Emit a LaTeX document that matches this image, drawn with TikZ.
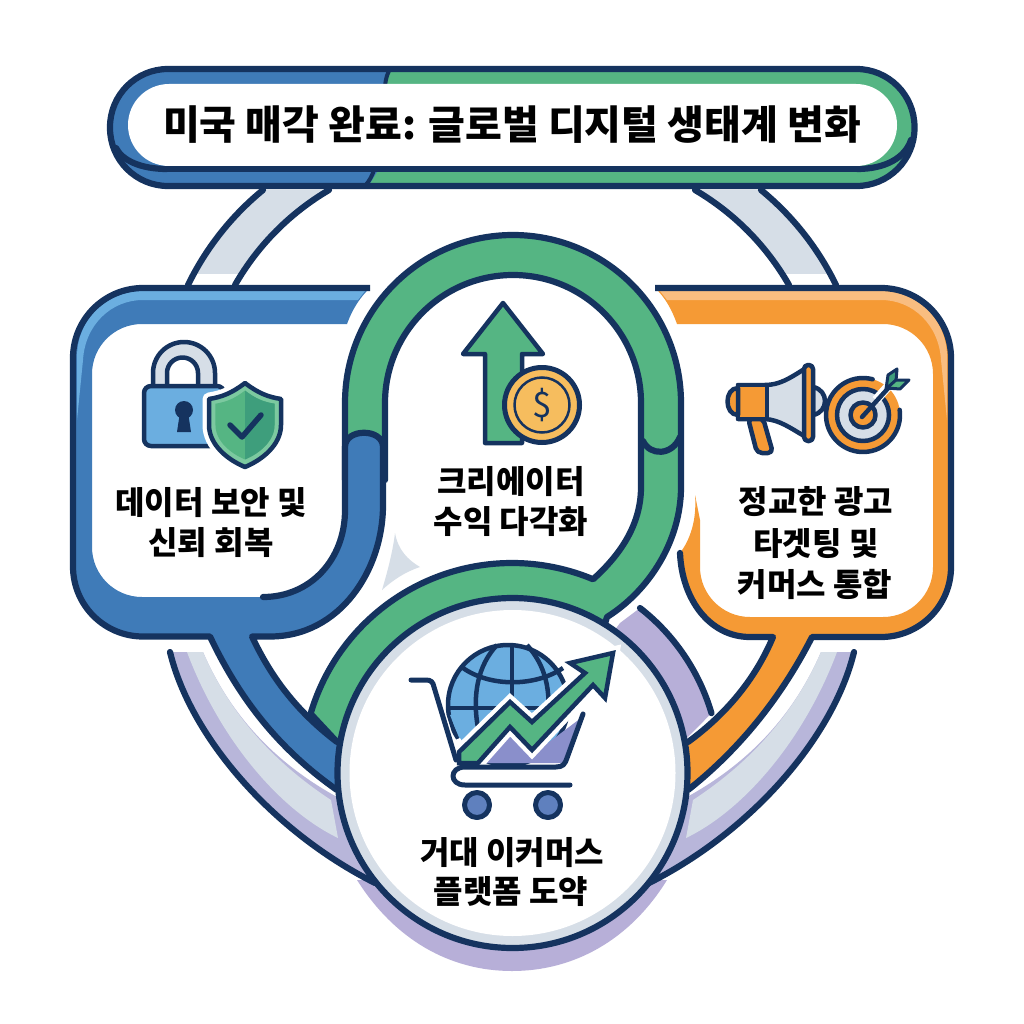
\documentclass[tikz,border=0pt]{standalone}
\usepackage{fontspec}
\setmainfont{Noto Sans CJK KR}
\usetikzlibrary{calc}
\definecolor{navy}{HTML}{15335F}
\definecolor{bluem}{HTML}{3F7BB8}
\definecolor{bluel}{HTML}{6BAEE0}
\definecolor{greenm}{HTML}{55B583}
\definecolor{greend}{HTML}{3E9E7C}
\definecolor{greenl}{HTML}{7CC9A0}
\definecolor{orangem}{HTML}{F59A35}
\definecolor{orangel}{HTML}{F9BD80}
\definecolor{pale}{HTML}{D6DEE7}
\definecolor{lav}{HTML}{B7AFD8}
\definecolor{peri}{HTML}{B9BCDC}
\definecolor{gold}{HTML}{F6BD5E}
\definecolor{basket}{HTML}{8A8FCB}
\definecolor{wheel}{HTML}{5F80BE}
\tikzset{
  line/.style={draw=navy,line width=6.2pt,line cap=round,line join=round},
  icon/.style={draw=navy,line width=4.5pt,line cap=round,line join=round},
  lab/.style={font=\fontsize{#1}{#1}\selectfont\bfseries,text=black,inner sep=0pt,align=center},
  lab/.default=31
}
\newcommand{\topring}{%
  \begin{scope}
    \clip (100,180) rectangle (400,273);
    \fill[pale] (263,190) .. controls (230,217) and (205,250) .. (188,285) -- (235,285) .. controls (258,245) and (290,213) .. (327,190) -- cycle;
  \end{scope}
  \draw[line] (263,190) .. controls (230,217) and (205,250) .. (188,285);
  \draw[line] (329,190) .. controls (290,213) and (258,245) .. (235,285);
}
\newcommand{\lowring}{%
  \fill[lav!45!peri] (170,652) -- (203,652) .. controls (228,710) and (270,760) .. (337,797) -- (365,860) -- (375,883) .. controls (270,830) and (190,735) .. (170,652) -- cycle;
  \fill[pale] (187,652) -- (203,652) .. controls (228,710) and (270,760) .. (331,800) -- (338,838) .. controls (280,810) and (220,740) .. (187,652) -- cycle;
  \draw[line] (170,652) .. controls (190,735) and (270,830) .. (375,883);
}
\def\shieldpath{(245,383) .. controls (232,393) and (222,397) .. (209,399) -- (209,425) .. controls (209,445) and (228,460) .. (245,467) .. controls (262,460) and (281,445) .. (281,425) -- (281,399) .. controls (268,397) and (258,393) .. (245,383) -- cycle}
\def\trendpath{(459,763) -- (459,752) -- (510,702) -- (532,722) -- (585,673) -- (570,663) -- (613,653) -- (605,698) -- (593,685) -- (532,750) -- (510,727) -- (478,763) -- cycle}
\begin{document}
\begin{tikzpicture}[x=1pt,y=-1pt]
\useasboundingbox (0,0) rectangle (1024,1024);
\fill[white] (0,0) rectangle (1024,1024);

% back ring
\topring
\begin{scope}[shift={(1024,0)},x=-1pt]\topring\end{scope}
\fill[lav] (357,880) .. controls (395,940) and (450,971) .. (512,971) .. controls (574,971) and (630,940) .. (667,880) -- cycle;
\lowring
\begin{scope}[shift={(1024,0)},x=-1pt]\lowring\end{scope}

% lavender arc at right
\fill[lav] (640,608) arc[start angle=308,end angle=343.6,radius=208] -- (680,745) -- (600,650) -- (620,623) -- cycle;
\draw[line] (640,608) arc[start angle=308,end angle=343.6,radius=208];

% orange frame
\fill[orangem] (655,288) -- (881,288) arc[start angle=270,end angle=360,radius=70] -- (951,567) arc[start angle=0,end angle=90,radius=70] -- (812,637) .. controls (785,690) and (745,745) .. (688,790) -- (688,742) .. controls (725,715) and (755,680) .. (773,637) -- (750,637) .. controls (710,637) and (682,600) .. (680,553) .. controls (690,540) and (697,520) .. (695,495) -- (700,520) -- (700,567) arc[start angle=180,end angle=90,radius=50] -- (883,617) arc[start angle=90,end angle=0,radius=50] -- (933,374) arc[start angle=360,end angle=270,radius=50] -- (677,324) .. controls (672,310) and (665,297) .. (655,288) -- cycle;
\fill[orangel] (660,291) -- (881,291) .. controls (918,291) and (947,320) .. (947,357) -- (947,420) -- (941,360) .. controls (939,325) and (913,300) .. (881,300) -- (667,300) -- cycle;
\draw[line,line cap=butt] (655,288) -- (881,288) arc[start angle=270,end angle=360,radius=70] -- (951,567) arc[start angle=0,end angle=90,radius=70] -- (812,637) .. controls (785,690) and (745,745) .. (688,790);
\draw[line] (688,742) .. controls (725,715) and (755,680) .. (773,637) -- (750,637) .. controls (710,637) and (682,600) .. (680,553);

% green arch and ring
\path[fill=greenm,line] (310.6,713.7) arc[start angle=196.4,end angle=292.7,radius=210] .. controls (620,555) and (641,525) .. (641,487) -- (641,403) arc[start angle=360,end angle=180,radius=128] -- (385,480) -- (345,480) -- (345,403) arc[start angle=180,end angle=360,radius=168] -- (681,487) .. controls (681,540) and (650,590) .. (607,617) -- (600,640) -- (337,742) -- cycle;
\draw[line] (643,441) .. controls (650,456) and (672,456) .. (680,437);

% blue frame
\fill[bluem] (370,288) -- (143,288) arc[start angle=270,end angle=180,radius=70] -- (73,566.5) arc[start angle=180,end angle=90,radius=70] -- (210,636.5) .. controls (240,700) and (280,750) .. (337,790) -- (337,742) .. controls (295,710) and (270,675) .. (252,636.5) -- (270,636.5) .. controls (340,636.5) and (383,570) .. (383,505) -- (383,447) .. controls (383,428) and (345,428) .. (345,447) -- (345,510) .. controls (345,560) and (310,597) .. (263,597) -- (142,597) arc[start angle=90,end angle=180,radius=50] -- (92,374) arc[start angle=180,end angle=270,radius=50] -- (347,324) .. controls (352,310) and (360,297) .. (370,288) -- cycle;
\fill[bluel] (365,291) -- (143,291) .. controls (106,291) and (77,320) .. (77,357) -- (77,420) -- (83,360) .. controls (85,325) and (111,300) .. (143,300) -- (358,300) -- cycle;
\draw[line,line cap=butt] (370,288) -- (143,288) arc[start angle=270,end angle=180,radius=70] -- (73,566.5) arc[start angle=180,end angle=90,radius=70] -- (210,636.5) .. controls (240,700) and (280,750) .. (337,790);
\draw[line] (337,742) .. controls (295,710) and (270,675) .. (252,636.5) -- (270,636.5) .. controls (340,636.5) and (383,570) .. (383,505) -- (383,447) .. controls (383,428) and (345,428) .. (345,447) -- (345,510) .. controls (345,560) and (310,597) .. (263,597);

% pale wedge
\fill[pale] (395,533) .. controls (398,550) and (408,560) .. (420,567) .. controls (405,572) and (393,580) .. (382,590) .. controls (388,570) and (393,550) .. (395,533) -- cycle;

% central circle
\fill[pale] (512.5,773) circle[radius=175];
\fill[white] (512.5,773) circle[radius=163];
\draw[line] (512.5,773) circle[radius=175];

% title bar
\begin{scope}
  \clip[rounded corners=58pt] (110,69) rectangle (914.5,186);
  \fill[greenm] (100,60) rectangle (930,195);
  \fill[bluem] (100,60) -- (392,60) .. controls (384,75) and (384,80) .. (384,90) -- (384,160) .. controls (378,172) and (372,178) .. (364,195) -- (100,195) -- cycle;
  \draw[navy,line width=4pt] (392,66) .. controls (387,73) and (386,78) .. (385,86);
  \draw[navy,line width=4pt] (374,170) .. controls (372,176) and (370,180) .. (365,186);
  \draw[line] (167,169) .. controls (140,169) and (122,160) .. (116,148);
  \draw[line] (857,169) .. controls (885,169) and (905,158) .. (911,140);
\end{scope}
\fill[white,rounded corners=41pt] (128,84) rectangle (897,166);
\draw[line] (167,169) -- (857,169);
\draw[line,rounded corners=58pt] (110,69) rectangle (914.5,186);
\node[lab=40] (title) at (512,125) {미국 매각 완료: 글로벌 디지털 생태계 변화};

% lock icon
\path[fill=pale,icon] (153,390) -- (153,373) arc[start angle=180,end angle=360,radius=31] -- (215,390) -- (198,390) -- (198,373) arc[start angle=360,end angle=180,radius=15.5] -- (167,390) -- cycle;
\path[fill=bluel,icon,rounded corners=7pt] (144,386) rectangle (224,446);
\fill[navy] (184,410) circle[radius=9];
\fill[navy] (180,412) -- (188,412) -- (191,432) -- (177,432) -- cycle;
% shield
\draw[white,line width=13pt,line join=round,fill=white] \shieldpath;
\path[fill=greenl,icon] \shieldpath;
\begin{scope}[scale around={0.82:(245,425)}]
  \fill[greenm] \shieldpath;
  \begin{scope}\clip (245,370) rectangle (300,480); \fill[greend] \shieldpath;\end{scope}
\end{scope}
\draw[navy,line width=5.5pt,line cap=round,line join=round] (230,425) -- (242,437) -- (261,415);

% arrow and coin
\path[fill=greenm,icon] (503,303) -- (543,354) -- (522,354) -- (522,443) -- (485,443) -- (485,354) -- (463,354) -- cycle;
\path[fill=gold,icon,line width=5pt] (542,405) circle[radius=37.5];
\draw[navy,line width=2.5pt] (542,405) circle[radius=27.5];
\node[font=\fontsize{35}{35}\selectfont,text=navy,inner sep=0pt] (dollar) at (542,405) {\$};

% megaphone
\path[fill=orangem,icon,rounded corners=5pt] (748,418) -- (757,453) -- (773,453) -- (763,418) -- cycle;
\path[fill=pale,icon] (813,387) .. controls (829,390) and (829,412) .. (813,415) -- cycle;
\path[fill=pale,icon] (738,385) -- (765,385) .. controls (780,385) and (790,378) .. (806,368) -- (806,437) .. controls (790,428) and (780,420) .. (765,419) -- (738,419) -- cycle;
\path[fill=orangem,icon] (738,385) -- (767,385) -- (767,419) -- (738,419) -- cycle;
\path[fill=orangem,icon] (738,388) .. controls (724,388) and (724,415) .. (738,415) -- cycle;
\path[fill=orangem,icon,rounded corners=4pt] (804,365) rectangle (813,441);
% target
\draw[orangem,line width=10pt] (863,415) circle[radius=32];
\draw[navy,line width=4.5pt,line cap=round] (863,415) ++(-8:37) arc[start angle=-8,end angle=285,radius=37];
\path[fill=pale,icon] (863,415) circle[radius=26];
\path[fill=orangem,icon] (863,415) circle[radius=12.5];
\draw[white,line width=9pt] (876,400) -- (892,382);
\draw[navy,line width=4.5pt,line cap=round] (862,417) -- (892,384);
\path[fill=greend,icon,line width=3pt] (886,389) -- (888,375) -- (897,369) -- (896,381) -- cycle;
\path[fill=greenm,icon,line width=3pt] (887,388) -- (900,389) -- (909,380) -- (896,380) -- cycle;

% cart
\begin{scope}
  \clip (440,630) -- (580,630) -- (580,765) -- (462,765) -- (442,700) -- cycle;
  \path[fill=bluel,icon] (508,705) circle[radius=60];
  \fill[bluel] (450,715) -- (462,745) -- (520,745) -- (520,700) -- cycle;
  \draw[navy,line width=4.5pt] (512,643) -- (512,715);
  \draw[navy,line width=4.5pt] (497,645) .. controls (478,665) and (472,695) .. (478,728);
  \draw[navy,line width=4.5pt] (527,645) .. controls (545,665) and (552,690) .. (547,725);
  \draw[navy,line width=4.5pt] (463,668) .. controls (490,687) and (535,687) .. (563,668);
  \draw[navy,line width=4.5pt] (448,708) -- (540,708);
\end{scope}
\fill[white] (450,742) -- (460,738) -- (480,770) -- (452,770) -- cycle;
\fill[basket] (581,718) -- (564,763) -- (478,763) -- (510,735) -- (532,755) -- cycle;
\draw[white,line width=13pt,line join=miter,fill=white] \trendpath;
\path[fill=greenm,icon,line join=miter,miter limit=3] \trendpath;
\draw[navy,line width=5pt,line cap=round,line join=round] (411,680) -- (426,680) .. controls (431,680) and (433,682) .. (434,687) -- (456,760);
\draw[navy,line width=5pt,line cap=round,line join=round] (583,714) -- (567,758) .. controls (565,764) and (563,767) .. (556,767) -- (465,767) .. controls (449,767) and (449,785) .. (465,785) -- (570,785);
\path[fill=wheel,icon,line width=5pt] (477,805) circle[radius=12.5];
\path[fill=wheel,icon,line width=5pt] (548,805) circle[radius=12.5];

% labels
\node[lab=32] (sec1) at (211,503) {데이터 보안 및};
\node[lab=32] (sec2) at (211,543) {신뢰 회복};
\node[lab=32] (cre1) at (511,482) {크리에이터};
\node[lab=32] (cre2) at (511,522) {수익 다각화};
\node[lab=32] (ad1) at (816,502) {정교한 광고};
\node[lab=32] (ad2) at (816,544) {타겟팅 및};
\node[lab=32] (ad3) at (815,584) {커머스 통합};
\node[lab=32] (ec1) at (512,853) {거대 이커머스};
\node[lab=32] (ec2) at (511,892) {플랫폼 도약};
\end{tikzpicture}
\end{document}
